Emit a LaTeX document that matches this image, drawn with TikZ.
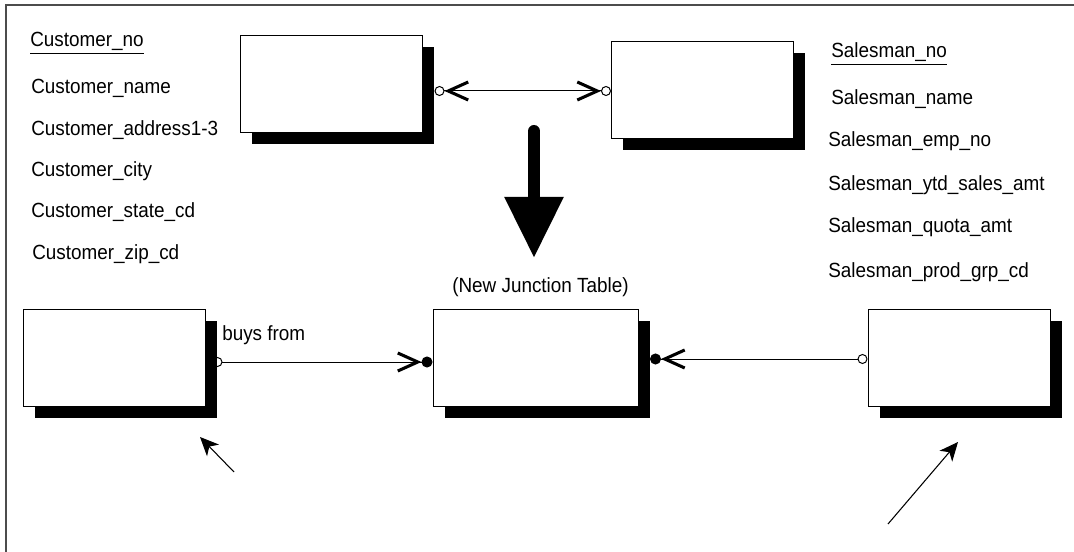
\documentclass[tikz,border=0pt]{standalone}
\usepackage{fontspec}
\setmainfont{Liberation Sans}[FakeStretch=0.92]
\usetikzlibrary{arrows.meta,positioning}
\tikzset{
  entity/.style={draw=black,line width=.75pt,fill=white,inner sep=0pt,
    minimum width=136.5pt,minimum height=72.75pt},
  wide/.style={minimum width=153.75pt},
  shade/.style={draw=none,fill=black},
  attr/.style={anchor=base west,inner sep=0pt,font=\fontsize{15.4pt}{18pt}\selectfont},
  rel/.style={line width=.75pt},
  bigarrow/.style={line width=9pt,line cap=round,-{Triangle[length=45.75pt,width=42pt]}},
  pointer/.style={line width=.8pt,-{Stealth[length=14pt,width=12.5pt,inset=4pt]}}
}
\begin{document}
\begin{tikzpicture}[x=.75pt,y=-.75pt]
  \useasboundingbox (0,0) rectangle (1074,552);
  \draw[line width=1.1pt,black!70] (6,552) -- (6,5) -- (1074,5);

  \node[entity,shade] (custS) at (343,95.5) {};
  \node[entity] (cust) at (331.5,84) {};
  \node[entity,shade] (salesS) at (714,101.5) {};
  \node[entity] (sales) at (702.5,90) {};
  \node[entity,shade] (buyerS) at (126,369.5) {};
  \node[entity] (buyer) at (114.5,358) {};
  \node[entity,wide,shade] (juncS) at (547,369.5) {};
  \node[entity,wide] (junc) at (535.5,358) {};
  \node[entity,shade] (sellerS) at (970.5,369.5) {};
  \node[entity] (seller) at (959,358) {};

  \draw[rel,{Circle[open,length=7.5pt,sep=0pt] Straight Barb[length=15pt,width=13.5pt,line width=2.3pt,sep=0pt]}-{Straight Barb[length=15pt,width=13.5pt,line width=2.3pt,sep=0pt] Circle[open,length=7.5pt]}]
    ([yshift=-.75pt]custS.east |- sales.west) -- ([yshift=-.75pt]sales.west);
  \draw[rel,{Circle[open,length=7.5pt]}-{Straight Barb[length=15pt,width=13.5pt,line width=2.3pt,sep=0pt] Circle[length=8.25pt]}]
    ([xshift=-3.75pt,yshift=-3pt]buyerS.east |- buyer.east) -- ([yshift=-3pt]junc.west);
  \draw[rel,{Circle[open,length=7.5pt]}-{Straight Barb[length=15pt,width=13.5pt,line width=2.3pt,sep=0pt] Circle[length=8.25pt]}]
    ([yshift=-.75pt]seller.west) -- ([yshift=-.75pt]juncS.east |- seller.west);

  \coordinate (bigtop) at (534,131);
  \coordinate (bigtip) at (534,258);
  \draw[bigarrow] (bigtop) -- (bigtip);

  \coordinate (ptrA) at (234,472);
  \coordinate (ptrAend) at (200,437);
  \coordinate (ptrB) at (888,524);
  \coordinate (ptrBend) at (958,442);
  \draw[pointer] (ptrA) -- (ptrAend);
  \draw[pointer] (ptrB) -- (ptrBend);

  \node[attr] (cno) at (30,47) {\underline{Customer\_no}};
  \node[attr] (cname) at (31,94) {Customer\_name};
  \node[attr] (caddr) at (31,136) {Customer\_address1-3};
  \node[attr] (ccity) at (31,177) {Customer\_city};
  \node[attr] (cstate) at (31,218) {Customer\_state\_cd};
  \node[attr] (czip) at (32,260) {Customer\_zip\_cd};

  \node[attr] (sno) at (831,58) {\underline{Salesman\_no}};
  \node[attr] (sname) at (831,105) {Salesman\_name};
  \node[attr] (semp) at (828,147) {Salesman\_emp\_no};
  \node[attr] (sytd) at (828,191) {Salesman\_ytd\_sales\_amt};
  \node[attr] (squota) at (828,233) {Salesman\_quota\_amt};
  \node[attr] (sprod) at (828,277) {Salesman\_prod\_grp\_cd};

  \node[attr] (junclabel) at (452,292) {(New Junction Table)};
  \node[attr] (buys) at (222,340) {buys from};
\end{tikzpicture}
\end{document}
